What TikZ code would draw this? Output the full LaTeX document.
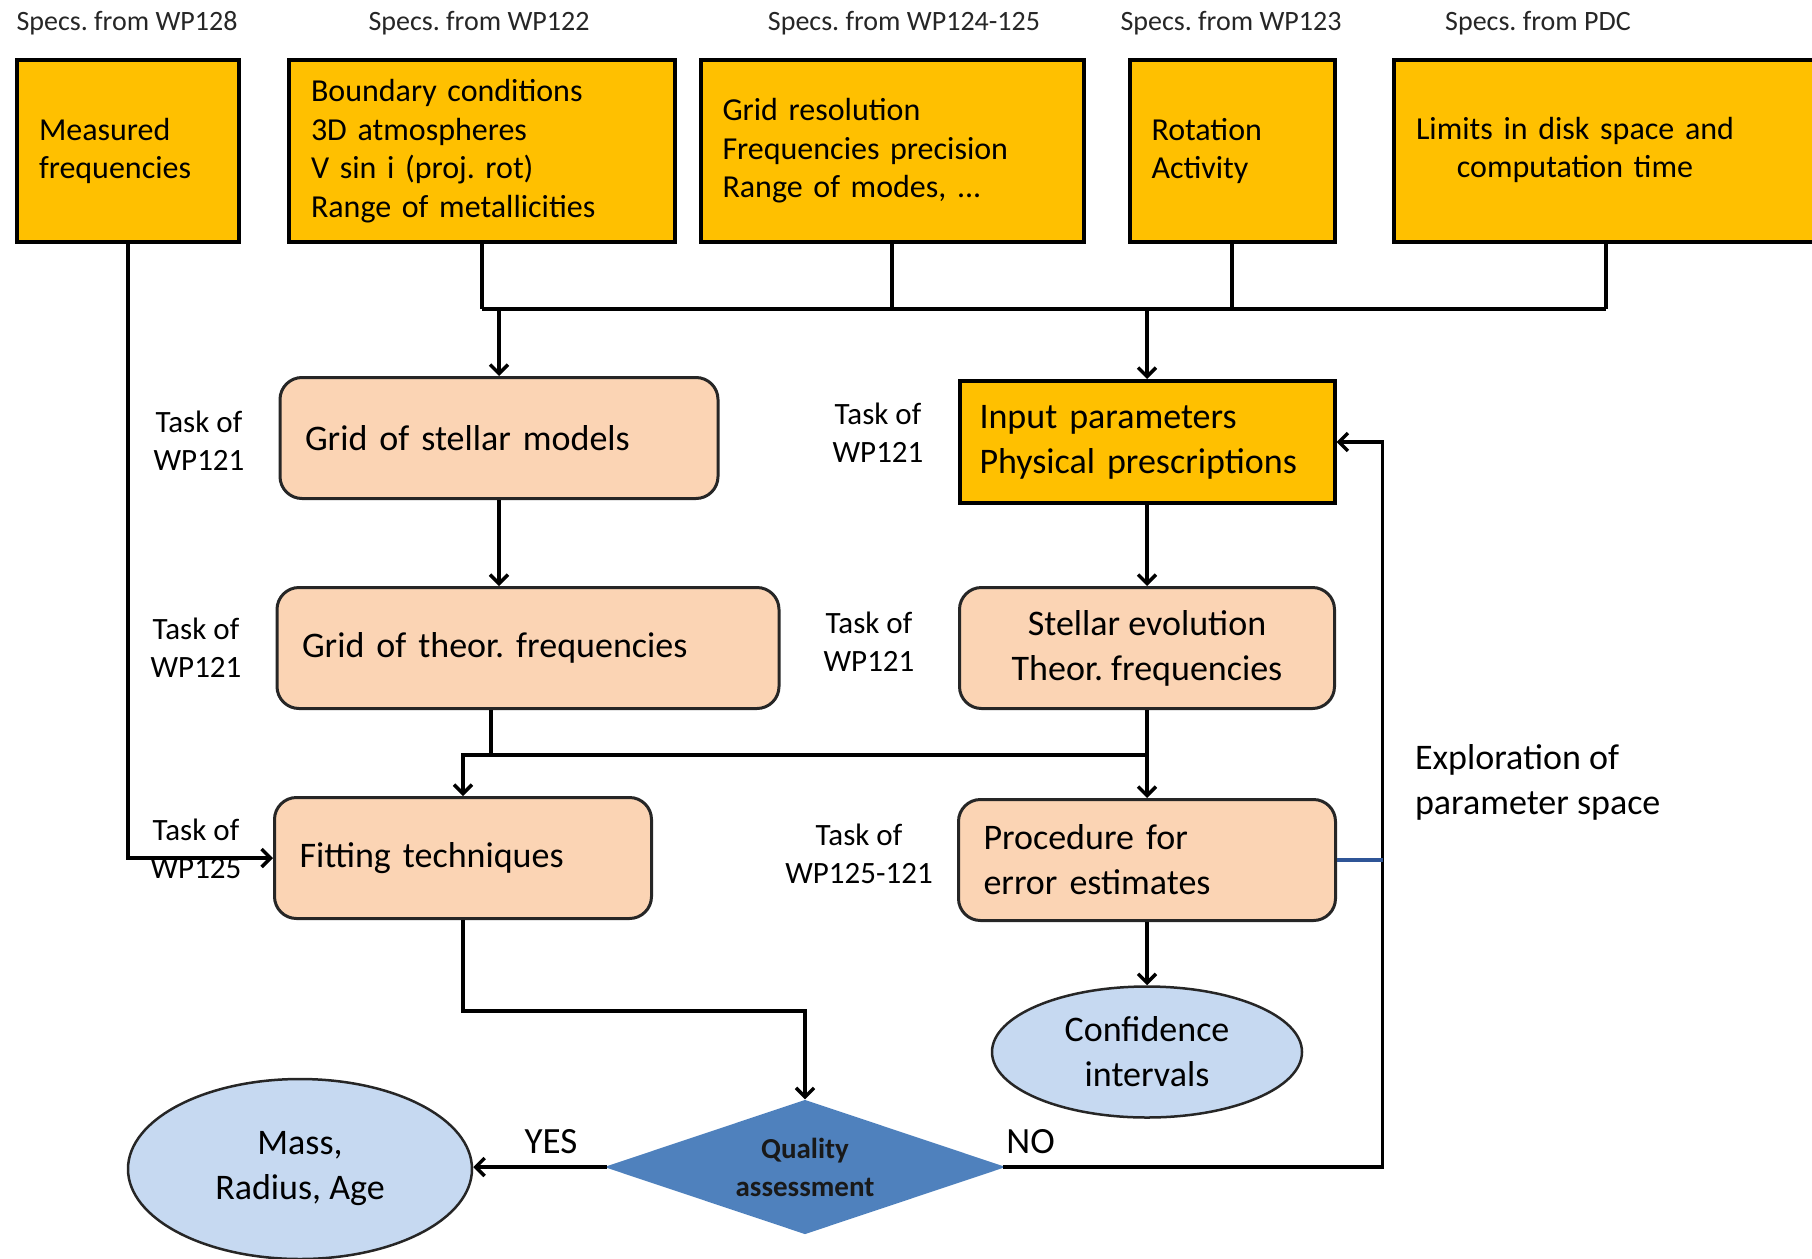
\documentclass[tikz,border=0pt]{standalone}
\usepackage{fontspec}
\setmainfont{Carlito}
\usetikzlibrary{shapes.geometric,arrows.meta}
\definecolor{specyellow}{HTML}{FFC000}
\definecolor{taskpeach}{HTML}{FBD4B4}
\definecolor{resultblue}{HTML}{C6D9F1}
\definecolor{decisionblue}{HTML}{4F81BD}
\definecolor{linkblue}{HTML}{2F5597}
\frenchspacing
\begin{document}
\begin{tikzpicture}[x=1pt,y=-1pt,>={Straight Barb[length=9pt,width=18pt]},line width=3.4pt]
        \tikzstyle{specfrom}=[font=\fontsize{28}{34}\selectfont, text=black!85]
        \tikzstyle{spec}=[draw=black, line width=4pt, fill=specyellow, minimum height=182pt, inner xsep=22pt, align=left, font=\fontsize{32}{38.5}\selectfont]
        \tikzstyle{task}=[draw=black!85, line width=3pt, rounded corners=22pt, fill=taskpeach, minimum height=121pt, inner xsep=25pt, font=\fontsize{36}{45}\selectfont]
        \tikzstyle{annot}=[align=center, font=\fontsize{31}{38}\selectfont]
        \tikzstyle{result}=[ellipse, draw=black!85, line width=2.5pt, fill=resultblue, inner sep=0pt, align=center, font=\fontsize{36}{45}\selectfont]
        \useasboundingbox (0,0) rectangle (1812,1258);

        \foreach \x/\src [count=\i] in {127/WP128, 479/WP122, 904/WP124-125, 1231/WP123, 1538/PDC}
            \node[specfrom] (from\i) at (\x,23) {Specs. from \src};

        \node[spec, minimum width=222pt, text width=178pt] (meas) at (128,151) {Measured\\frequencies};
        \node[spec, minimum width=386pt, text width=342pt] (bound) at (482,151) {Boundary conditions\\3D atmospheres\\V sin i (proj. rot)\\Range of metallicities};
        \node[spec, minimum width=383pt, text width=339pt] (gridres) at (892,151) {Grid resolution\\Frequencies precision\\Range of modes, ...};
        \node[spec, minimum width=205pt, text width=161pt] (rot) at (1232,151) {Rotation\\Activity};
        \node[spec, minimum width=424pt, text width=380pt] (lim) at (1606,151) {\begin{tabular}{@{}c@{}}Limits in disk space and\\computation time\end{tabular}};

        \node[task, minimum width=438pt, text width=388pt, align=left] (models) at (499,438) {Grid of stellar models};
        \node[spec, minimum width=375pt, text width=335pt, inner xsep=20pt, minimum height=122pt, font=\fontsize{36}{45}\selectfont] (input) at (1147,442) {Input parameters\\Physical prescriptions};
        \node[task, minimum width=502pt, text width=452pt, align=left] (theor) at (528,648) {Grid of theor. frequencies};
        \node[task, minimum width=375pt, align=center] (evo) at (1147,648) {Stellar evolution\\Theor. frequencies};
        \node[task, minimum width=377pt, text width=327pt, align=left] (fit) at (463,858) {Fitting techniques};
        \node[task, minimum width=377pt, text width=327pt, align=left] (proc) at (1147,860) {Procedure for\\error estimates};

        \node[result, minimum width=310pt, minimum height=131pt] (conf) at (1147,1052) {Confidence\\intervals};
        \node[diamond, aspect=3, fill=decisionblue, draw=decisionblue, inner sep=0pt, minimum width=392pt, minimum height=132pt, align=center, font=\bfseries\fontsize{29}{38}\selectfont, text=black!90] (qa) at (805,1167) {Quality\\assessment};
        \node[result, minimum width=344pt, minimum height=180pt] (mass) at (300,1169) {Mass,\\Radius, Age};

        \foreach \x/\y/\wp [count=\i] in {199/441/WP121, 196/648/WP121, 196/849/WP125, 878/433/WP121, 869/642/WP121, 859/854/WP125-121}
            \node[annot] (task\i) at (\x,\y) {Task of\\\wp};
        \node[anchor=west, align=left, font=\fontsize{36}{45}\selectfont] (explore) at (1410,782) {Exploration of\\parameter space};

        \coordinate (bus) at (482,309);
        \draw (bus) -- (bus -| lim.south);
        \foreach \source in {bound,gridres,rot,lim}
            \draw (\source.south) -- (\source.south |- bus);
        \draw [->] (models.north |- bus) -- (models.north);
        \draw [->] (input.north |- bus) -- (input.north);
        \draw [->] (models.south) -- (models.south |- theor.north);
        \draw [->] (input.south) -- (evo.north);

        \coordinate (join) at (491,755);
        \draw (join |- theor.south) -- (join);
        \draw [->] (join) -| (fit.north);
        \draw (join) -- (join -| evo.south);
        \draw [->] (evo.south) -- (proc.north);
        \draw [->] (meas.south) |- (fit.west);
        \draw [->] (proc.south) -- (conf.north);
        \draw [->] (fit.south) -- ++(0,91) -| (qa.north);
        \draw [->] (qa.west) -- (mass.east |- qa.west) node [pos=0.42, above=8pt, font=\fontsize{37}{45}\selectfont] (yes) {YES};
        \draw [->] (qa.east) node [above right, inner xsep=2pt, inner ysep=12pt, font=\fontsize{37}{45}\selectfont] (no) {NO} -- ++(380,0) |- (input.east);
        \draw [linkblue] (proc.east) -- ++(46,0);
    \end{tikzpicture}
\end{document}
